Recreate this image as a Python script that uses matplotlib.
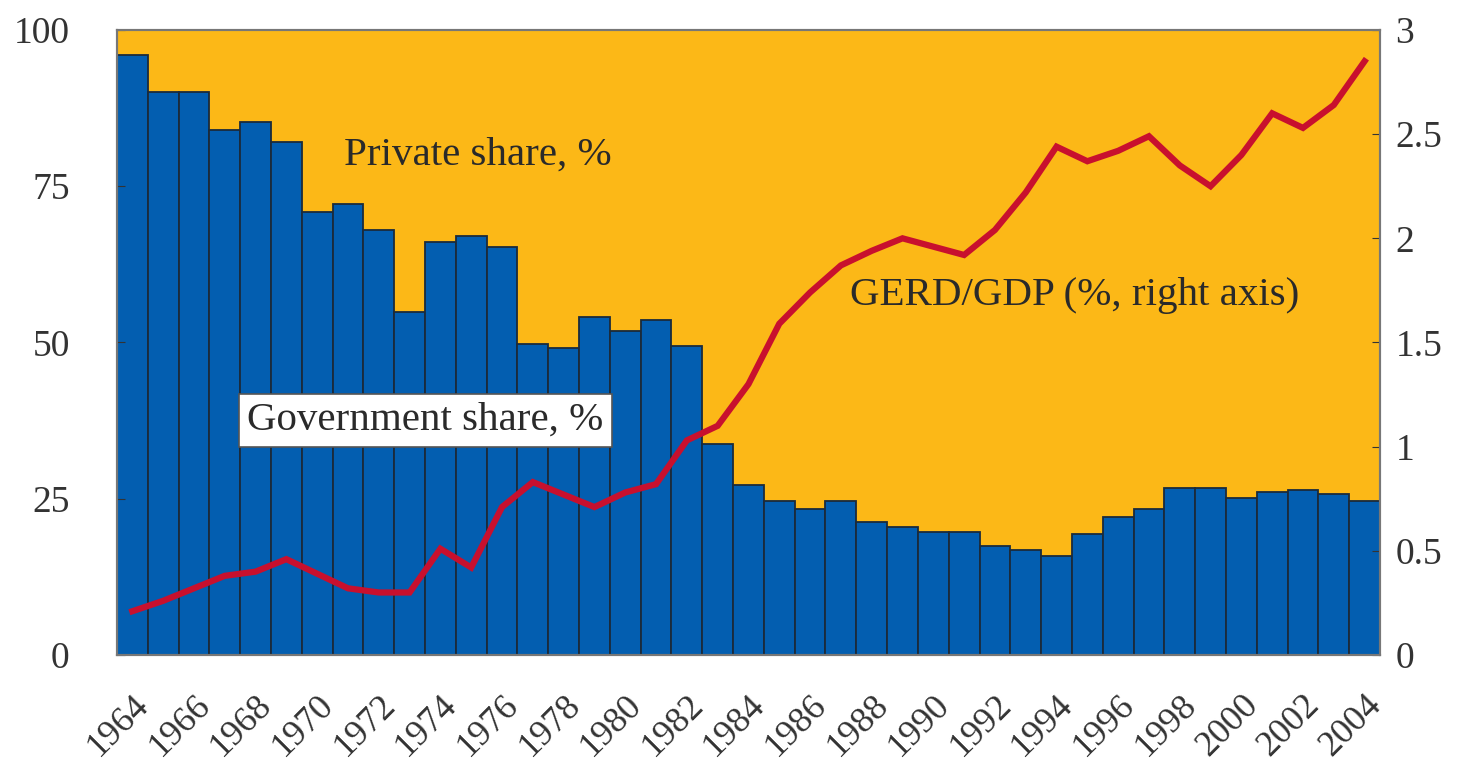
import matplotlib
matplotlib.use("Agg")
import matplotlib.pyplot as plt
import numpy as np

years = list(range(1964, 2005))
gov_share = [96, 90, 90, 84, 85.3, 82, 70.9, 72.2, 68, 54.9, 66, 67, 65.3, 49.8,
             49.1, 54, 51.8, 53.6, 49.4, 33.8, 27.2, 24.6, 23.4, 24.6, 21.3, 20.5,
             19.7, 19.7, 17.5, 16.8, 15.8, 19.4, 22, 23.4, 26.7, 26.7, 25.1, 26,
             26.4, 25.7, 24.6]
private_share = [100 - g for g in gov_share]
gerd_gdp = [0.21, 0.26, 0.32, 0.38, 0.40, 0.46, 0.39, 0.32, 0.30, 0.30, 0.51, 0.42,
            0.71, 0.83, 0.77, 0.71, 0.78, 0.82, 1.03, 1.10, 1.30, 1.59, 1.74, 1.87,
            1.94, 2.00, 1.96, 1.92, 2.04, 2.22, 2.44, 2.37, 2.42, 2.49, 2.35, 2.25,
            2.40, 2.60, 2.53, 2.64, 2.85]

blue = "#035EB0"
yellow = "#FCB817"
red = "#C8102E"
txt = "#2a2a2a"
plt.rcParams["font.family"] = ["Liberation Serif", "DejaVu Serif"]

fig = plt.figure(figsize=(14.58, 7.65), dpi=100)
ax = fig.add_axes([0.0802, 0.1438, 0.8663, 0.8170])
x = np.arange(len(years))

# private share stacked on top of government share
ax.bar(x, private_share, bottom=gov_share, width=1.0, color=yellow, linewidth=0)
ax.bar(x, gov_share, width=1.0, color=blue, edgecolor="#1b2b3b", linewidth=1.3)
ax.set_xlim(-0.5, len(years) - 0.5)
ax.set_ylim(0, 100)
ax.set_yticks([0, 25, 50, 75, 100])
ax.tick_params(axis="y", direction="in", length=6, labelsize=27, colors="#333333", pad=34)

ax.set_xticks(x[::2])
ax.set_xticklabels([str(y) for y in years[::2]], rotation=45, ha="right",
                   rotation_mode="anchor", fontsize=26, color="#333333")
ax.tick_params(axis="x", direction="in", length=0, pad=24)

ax2 = ax.twinx()
ax2.plot(x, gerd_gdp, color=red, linewidth=4.5, solid_joinstyle="miter")
ax2.set_ylim(0, 3)
ax2.set_yticks([0, 0.5, 1, 1.5, 2, 2.5, 3])
ax2.set_yticklabels(["0", "0.5", "1", "1.5", "2", "2.5", "3"])
ax2.tick_params(axis="y", direction="in", length=6, labelsize=27, colors="#333333", pad=11)

for a in (ax, ax2):
    for s in a.spines.values():
        s.set_color("#777777")
        s.set_linewidth(1.5)

ax.text(6.88, 78.4, "Private share, %", fontsize=29.5, color=txt, va="baseline")
ax2.text(23.28, 1.68, "GERD/GDP (%, right axis)", fontsize=29.5, color=txt, va="baseline")
ax2.text(3.73, 1.08, "Government share, %", fontsize=29.5, color=txt, va="baseline",
         bbox=dict(boxstyle="square,pad=0.2", facecolor="white", edgecolor="#555555", linewidth=1.2))

fig.savefig("out.png", dpi=100)
